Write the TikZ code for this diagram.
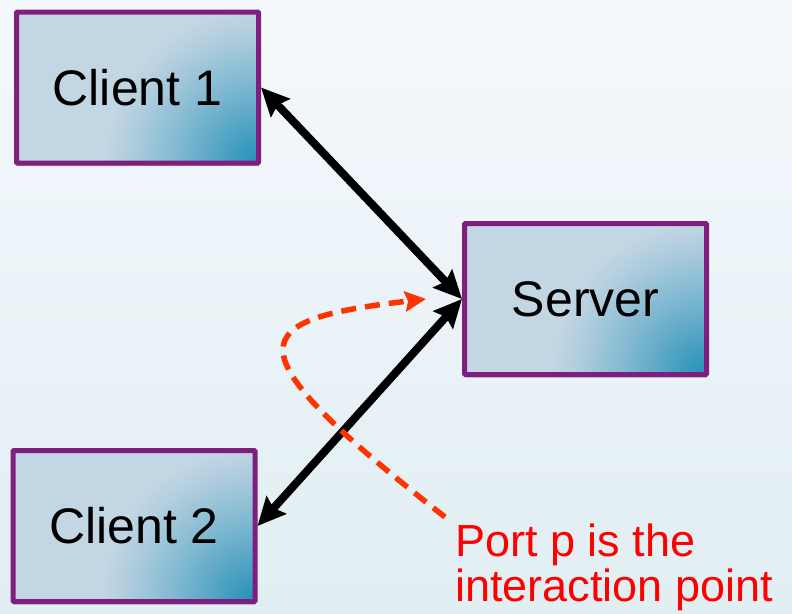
\documentclass[tikz,border=0pt]{standalone}
\usepackage{fontspec}
\setmainfont{Liberation Sans}
\usetikzlibrary{arrows.meta}
\usetikzlibrary{shadows}

\definecolor{bgtop}{HTML}{F5F8FD}
\definecolor{bgbottom}{HTML}{E1EEF2}
\definecolor{boxlight}{HTML}{C3D6E3}
\definecolor{boxdark}{HTML}{2C93BA}
\definecolor{boxrim}{HTML}{7E1E7E}
\definecolor{portred}{HTML}{FF3300}

\begin{document}
\begin{tikzpicture}[x=1pt,y=-1pt,
        machine/.style={draw=boxrim, line width=5pt, fill=boxlight, rounded corners=1pt,
            minimum width=242pt, minimum height=151pt, inner sep=0pt,
            font=\fontsize{50}{60}\selectfont,
            drop shadow={shadow xshift=1pt, shadow yshift=-3pt, opacity=0.3, fill=black!70},
            path picture={% glow in the lower right corner
                \foreach \i in {0,...,49} {
                    \pgfmathsetmacro\glowr{155-3*\i}
                    \pgfmathsetmacro\glowpct{100*(\i/49)^1.15}
                    \fill[boxdark!\glowpct!boxlight]
                        (path picture bounding box.south east) circle (\glowr pt);
                }}},
        link/.style={line width=8pt,
            {Stealth[length=28pt,width=26pt,inset=4pt]}-{Stealth[length=28pt,width=26pt,inset=4pt]}},
        portline/.style={draw=portred, line width=5.5pt, dash pattern=on 15pt off 9pt,
            -{Stealth[length=21pt,width=20pt,inset=3pt]}},
        note/.style={text=red, align=left, inner sep=0pt,
            font=\fontsize{45}{45}\selectfont}]
    \useasboundingbox (0,0) rectangle (792,613);
    \shade[top color=bgtop, bottom color=bgbottom] (0,0) rectangle (792,613);

    \node[machine] (client1) at (137.5,87.5) {Client 1};
    \node[machine] (server) at (585.5,299) {Server};
    \node[machine] (client2) at (134,526) {Client 2};
    \node[note, anchor=north west] (portnote) at (455,524) {Port p is the\\interaction point};

    \coordinate (portp) at (445,517);
    \coordinate (ipoint) at (426,299);

    \draw[link] (client1.east) to (server.west);
    \draw[link] (server.west) to (client2.east);
    \draw[portline] (portp) .. controls (225,345) and (245,320) .. (ipoint);
\end{tikzpicture}
\end{document}
